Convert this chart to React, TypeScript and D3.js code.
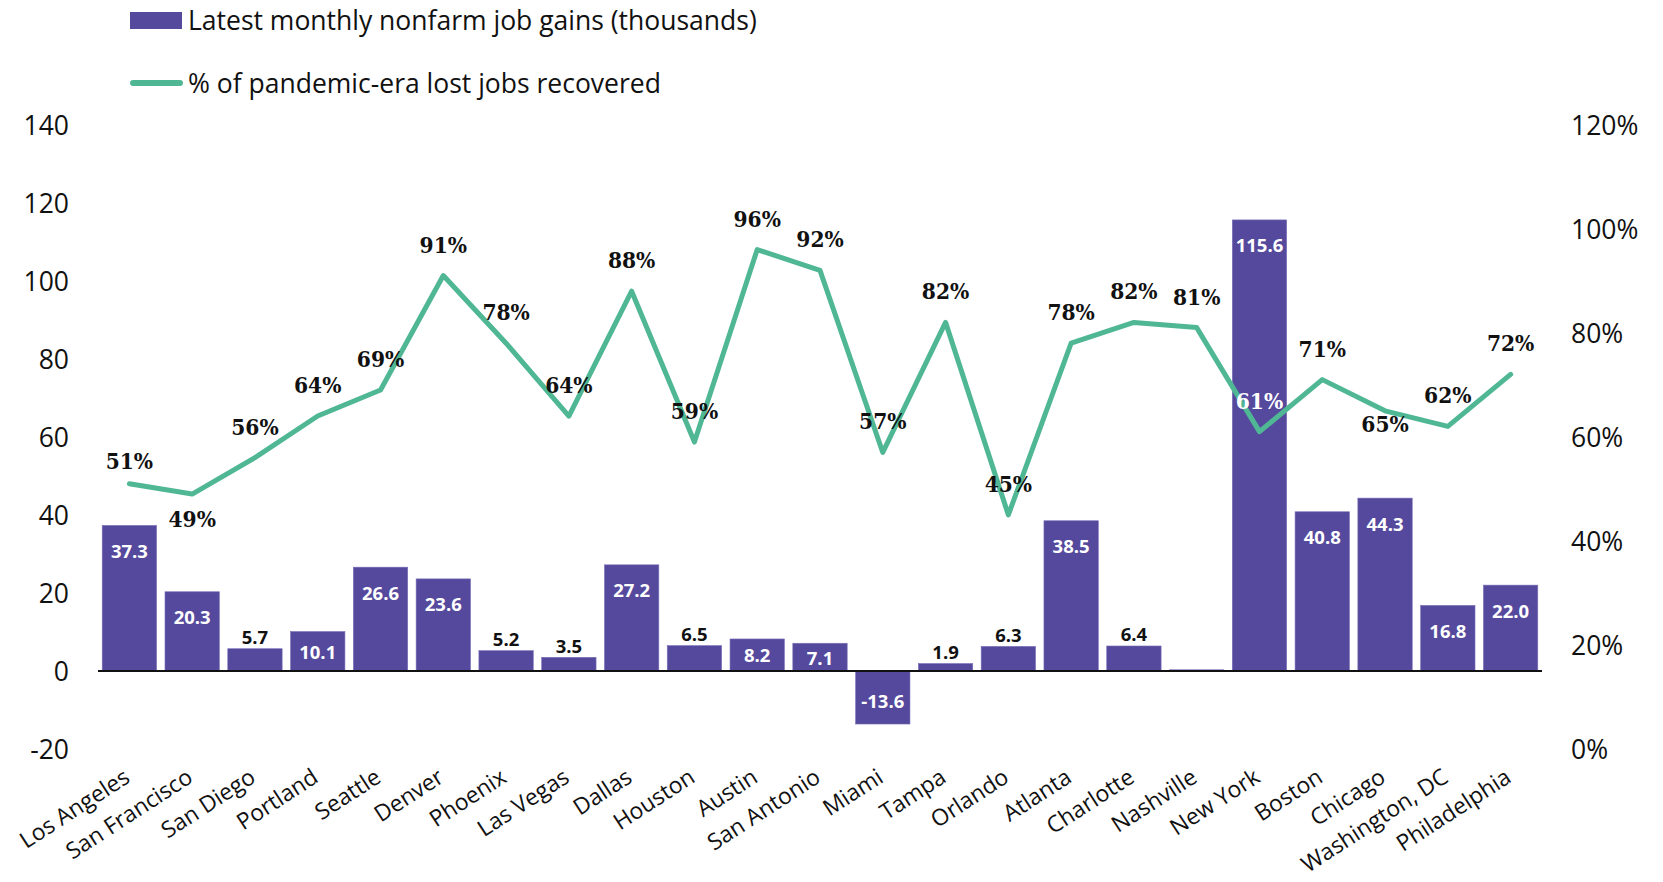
import React from "react";
import * as d3 from "d3";

const categories = [
  "Los Angeles", "San Francisco", "San Diego", "Portland", "Seattle", "Denver",
  "Phoenix", "Las Vegas", "Dallas", "Houston", "Austin", "San Antonio", "Miami",
  "Tampa", "Orlando", "Atlanta", "Charlotte", "Nashville", "New York", "Boston",
  "Chicago", "Washington, DC", "Philadelphia",
];
const jobGains = [
  37.3, 20.3, 5.7, 10.1, 26.6, 23.6, 5.2, 3.5, 27.2, 6.5, 8.2, 7.1, -13.6, 1.9,
  6.3, 38.5, 6.4, 0.3, 115.6, 40.8, 44.3, 16.8, 22.0,
];
const recovered = [
  0.51, 0.49, 0.56, 0.64, 0.69, 0.91, 0.78, 0.64, 0.88, 0.59, 0.96, 0.92, 0.57,
  0.82, 0.45, 0.78, 0.82, 0.81, 0.61, 0.71, 0.65, 0.62, 0.72,
];
const recoveredLabelSide = [
  "near", "below", "above", "above", "above", "above", "above", "above", "above",
  "above", "above", "above", "above", "above", "above", "above", "above", "above",
  "above", "above", "nearBelow", "above", "above",
];
const leftTicks = [-20, 0, 20, 40, 60, 80, 100, 120, 140];
const rightTicks = [0, 0.2, 0.4, 0.6, 0.8, 1.0, 1.2];
const legendLabels = [
  "Latest monthly nonfarm job gains (thousands)",
  "% of pandemic-era lost jobs recovered",
];

const W = 1663;
const H = 882;
const BAR = "#55499d";
const LINE = "#50b795";
const SANS = "'Open Sans', 'Noto Sans', sans-serif";
const SLAB = "'DejaVu Serif Condensed', 'DejaVu Serif', serif";

const labelOffset: Record<string, number> = {
  above: -31,
  near: -23,
  below: 25,
  nearBelow: 13,
};

export default function App() {
  React.useEffect(() => {
    document.body.style.margin = "0";
  }, []);

  const x = d3
    .scaleBand<string>()
    .domain(categories)
    .range([98, 1542])
    .paddingInner(0.134)
    .paddingOuter(0.067);
  const yL = d3.scaleLinear().domain([-20, 140]).range([749, 124.7]);
  const yR = d3.scaleLinear().domain([0, 1.2]).range([749, 124.7]);
  const bw = x.bandwidth();
  const cx = (c: string) => (x(c) as number) + bw / 2;
  const base = yL(0);

  const line = d3
    .line<number>()
    .x((_, i) => cx(categories[i]))
    .y((d) => yR(d));

  const pctFmt = d3.format(".0%");

  return (
    <svg
      width={W}
      height={H}
      style={{ position: "absolute", left: 0, top: 0, background: "#fff" }}
    >
      {/* legend */}
      <rect x={130} y={12} width={52} height={17} fill={BAR} />
      <text x={188} y={20} fontFamily={SANS} fontSize={26.5} dominantBaseline="central" fill="#111">
        {legendLabels[0]}
      </text>
      <line x1={133} x2={180} y1={83} y2={83} stroke={LINE} strokeWidth={6} strokeLinecap="round" />
      <text x={188} y={83} fontFamily={SANS} fontSize={26.5} dominantBaseline="central" fill="#111">
        {legendLabels[1]}
      </text>

      {/* left axis */}
      {leftTicks.map((t) => (
        <text key={"l" + t} x={69} y={yL(t)} textAnchor="end" dominantBaseline="central"
          fontFamily={SANS} fontSize={26.5} fill="#111">
          {t}
        </text>
      ))}
      {/* right axis */}
      {rightTicks.map((t) => (
        <text key={"r" + t} x={1571} y={yR(t)} textAnchor="start" dominantBaseline="central"
          fontFamily={SANS} fontSize={26.5} fill="#111">
          {pctFmt(t)}
        </text>
      ))}

      {/* bars */}
      {categories.map((c, i) => {
        const v = jobGains[i];
        const y0 = yL(Math.max(0, v));
        const y1 = yL(Math.min(0, v));
        return (
          <rect key={"b" + c} x={x(c)} y={y0} width={bw} height={Math.max(0.8, y1 - y0)}
            fill={BAR} stroke="#7a70b8" strokeWidth={0.6} />
        );
      })}

      {/* baseline */}
      <line x1={98} x2={1542} y1={base} y2={base} stroke="#111" strokeWidth={2} />

      {/* bar labels */}
      {categories.map((c, i) => {
        const v = jobGains[i];
        if (Math.abs(v) < 1) return null;
        const inside = Math.abs(v) >= 7;
        let ly: number;
        if (inside) {
          if (v >= 0) {
            const top = yL(v);
            ly = Math.min(top + 25, (top + base) / 2);
          } else {
            const bot = yL(v);
            ly = Math.max(bot - 24, (bot + base) / 2);
          }
        } else {
          ly = yL(v) - 12;
        }
        return (
          <text key={"bl" + c} x={cx(c)} y={ly} textAnchor="middle" dominantBaseline="central"
            fontFamily={SANS} fontWeight={700} fontSize={18.5} fill={inside ? "#fff" : "#111"}>
            {v.toFixed(1)}
          </text>
        );
      })}

      {/* line */}
      <path d={line(recovered) || ""} fill="none" stroke={LINE} strokeWidth={5}
        strokeLinejoin="round" strokeLinecap="round" />

      {/* line labels */}
      {categories.map((c, i) => {
        const v = recovered[i];
        const py = yR(v);
        const ly = py + labelOffset[recoveredLabelSide[i]];
        const v2 = jobGains[i];
        const barTop = yL(Math.max(0, v2));
        const overBar = ly > barTop + 8 && ly < base;
        return (
          <text key={"pl" + c} x={cx(c)} y={ly} textAnchor="middle" dominantBaseline="central"
            fontFamily={SLAB} fontStretch="condensed" fontWeight={700} fontSize={22.5}
            fill={overBar ? "#fff" : "#111"}>
            {pctFmt(v)}
          </text>
        );
      })}

      {/* x labels */}
      {categories.map((c) => (
        <text key={"x" + c} textAnchor="end" fontFamily={SANS} fontSize={22.8} fill="#111"
          transform={`translate(${cx(c) + 2},${781}) rotate(-33)`}>
          {c}
        </text>
      ))}
    </svg>
  );
}
